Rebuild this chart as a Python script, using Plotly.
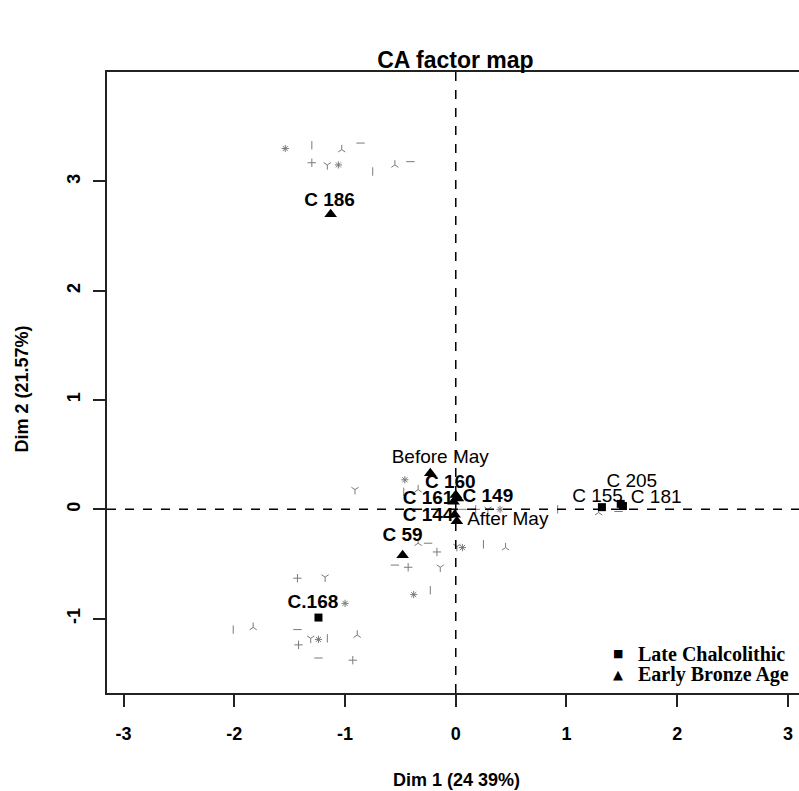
import plotly.graph_objects as go

# ---------------- data ----------------
ebr_names = ["C 186", "C 59", "C 160", "C 161", "C 149", "C 144", "Before May", "After May"]
ebr_x = [-1.13, -0.48, 0.00, -0.02, 0.02, -0.01, -0.23, 0.01]
ebr_y = [2.70, -0.42, 0.13, 0.07, 0.10, -0.05, 0.33, -0.11]

lch_names = ["C.168", "C 155", "C 181", "C 205"]
lch_x = [-1.24, 1.32, 1.51, 1.49]
lch_y = [-0.99, 0.02, 0.03, 0.05]

label_names = ["C 186", "C 59", "C 160", "C 161", "C 149", "C 144", "Before May", "After May",
               "C.168", "C 155", "C 181", "C 205"]
label_x = [-1.14, -0.48, -0.05, -0.25, 0.29, -0.25, -0.14, 0.47, -1.29, 1.28, 1.81, 1.59]
label_y = [2.82, -0.25, 0.24, 0.09, 0.11, -0.06, 0.47, -0.10, -0.86, 0.11, 0.10, 0.25]
bold_labels = ["C 186", "C 59", "C 160", "C 161", "C 149", "C 144", "C.168"]

other_x = [-1.54, -1.30, -1.03, -0.86, -1.30, -1.16, -1.06, -0.75, -0.55, -0.41,
           -1.43, -1.18, -1.00, -2.01, -1.83, -1.43, -1.42, -1.31, -1.24, -1.16, -0.89, -1.24, -0.93,
           -0.91, -0.46, -0.47, -0.34, 0.06, 0.18, 0.29, 0.40, 0.92, -0.34, -0.25, -0.17, 0.01, 0.06,
           0.25, 0.45, -0.55, -0.43, -0.14, -0.38, -0.23, 1.29, 1.47]
other_y = [3.30, 3.33, 3.29, 3.35, 3.17, 3.15, 3.15, 3.09, 3.15, 3.18,
           -0.63, -0.62, -0.86, -1.10, -1.08, -1.10, -1.24, -1.18, -1.19, -1.18, -1.15, -1.36, -1.38,
           0.18, 0.27, 0.16, 0.18, 0.00, 0.00, 0.00, 0.00, 0.00, -0.31, -0.31, -0.39, -0.34, -0.35,
           -0.32, -0.35, -0.51, -0.53, -0.53, -0.78, -0.74, -0.03, -0.02]

x_ticks = [-3, -2, -1, 0, 1, 2, 3]
y_ticks = [-1, 0, 1, 2, 3]

legend_labels = ["Late Chalcolithic", "Early Bronze Age"]

title_text = "CA factor map"
x_title = "Dim 1 (24 39%)"
y_title = "Dim 2 (21.57%)"

# ---------------- figure ----------------
SANS = "Liberation Sans, Arial, sans-serif"
SERIF = "Liberation Serif, Times New Roman, serif"

sym_cycle = ["asterisk-open", "line-ns-open", "y-up-open", "line-ew-open", "cross-thin-open", "y-down-open"]
other_symbols = [sym_cycle[i % len(sym_cycle)] for i in range(len(other_x))]

fig = go.Figure()

fig.add_trace(go.Scatter(
    x=other_x, y=other_y, mode="markers", showlegend=False, hoverinfo="skip",
    marker=dict(symbol=other_symbols, size=6, color="#7a7a7a", line=dict(width=1, color="#7a7a7a")),
))

fig.add_trace(go.Scatter(
    x=lch_x, y=lch_y, mode="markers", name=legend_labels[0], text=lch_names, showlegend=False,
    marker=dict(symbol="square", size=8, color="black"),
))
fig.add_trace(go.Scatter(
    x=ebr_x, y=ebr_y, mode="markers", name=legend_labels[1], text=ebr_names, showlegend=False,
    marker=dict(symbol="triangle-up", size=11, color="black"),
))

bx = [x for n, x in zip(label_names, label_x) if n in bold_labels]
by = [y for n, y in zip(label_names, label_y) if n in bold_labels]
bn = [n for n in label_names if n in bold_labels]
rx = [x for n, x in zip(label_names, label_x) if n not in bold_labels]
ry = [y for n, y in zip(label_names, label_y) if n not in bold_labels]
rn = [n for n in label_names if n not in bold_labels]

fig.add_trace(go.Scatter(
    x=bx, y=by, mode="text", text=bn, showlegend=False, hoverinfo="skip",
    textfont=dict(family=SANS, size=19, color="black", weight="bold"),
))
fig.add_trace(go.Scatter(
    x=rx, y=ry, mode="text", text=rn, showlegend=False, hoverinfo="skip",
    textfont=dict(family=SANS, size=19, color="black"),
))

fig.add_hline(y=0, line=dict(color="black", width=1.5, dash="dash"))
fig.add_vline(x=0, line=dict(color="black", width=1.5, dash="dash"))

fig.update_layout(
    width=799, height=791,
    margin=dict(l=107, r=0, t=72, b=98),
    paper_bgcolor="white", plot_bgcolor="white",
    showlegend=False,
    title=dict(text="<b>" + title_text + "</b>", x=0.57, xanchor="center", y=0.924, yanchor="middle",
               font=dict(family=SANS, size=23, color="black")),
    xaxis=dict(range=[-3.15, 3.10], tickvals=x_ticks, ticktext=[str(v) for v in x_ticks],
               showgrid=False, zeroline=False, showline=True, mirror=True,
               linecolor="#222", linewidth=1.5, ticks="outside", ticklen=12, tickwidth=1.5,
               tickcolor="#222", ticklabelstandoff=12,
               tickfont=dict(family=SANS, size=18, color="black", weight="bold")),
    yaxis=dict(range=[-1.68, 4.00], tickvals=y_ticks, ticktext=[str(v) for v in y_ticks],
               showgrid=False, zeroline=False, showline=True, mirror=False,
               linecolor="#222", linewidth=1.5, ticks="outside", ticklen=12, tickwidth=1.5,
               tickcolor="#222", tickangle=-90, ticklabelstandoff=6,
               tickfont=dict(family=SANS, size=18, color="black", weight="bold")),
)

# legend drawn as text entries
legend_rows = [("■", 11, 0.063), ("▲", 13, 0.030)]
for (sym, ssize, yy), lab in zip(legend_rows, legend_labels):
    fig.add_annotation(text=sym, xref="paper", yref="paper", x=0.739, y=yy,
                       xanchor="center", yanchor="middle", showarrow=False,
                       font=dict(family="DejaVu Sans", size=ssize, color="black"))
    fig.add_annotation(text="<b>" + lab + "</b>", xref="paper", yref="paper", x=0.765, y=yy,
                       xanchor="left", yanchor="middle", showarrow=False,
                       font=dict(family=SERIF, size=20, color="black"))

fig.add_annotation(text="<b>" + x_title + "</b>", xref="paper", yref="paper", x=0.505, y=-0.14,
                   xanchor="center", yanchor="middle", showarrow=False,
                   font=dict(family=SANS, size=18, color="black"))
fig.add_annotation(text="<b>" + y_title + "</b>", xref="paper", yref="paper", x=-0.123, y=0.49,
                   xanchor="center", yanchor="middle", textangle=-90, showarrow=False,
                   font=dict(family=SANS, size=18, color="black"))

fig.write_html("out.html")
